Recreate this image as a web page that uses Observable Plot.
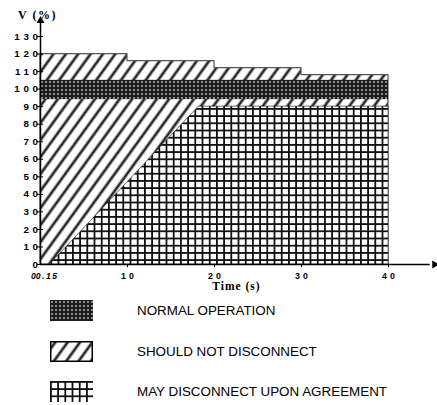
<!DOCTYPE html>
<html><head><meta charset="utf-8">
<script src="https://cdn.jsdelivr.net/npm/d3@7"></script>
<script src="https://cdn.jsdelivr.net/npm/@observablehq/plot@0.6"></script>
<style>
body{margin:0;background:#fff;}
#wrap{position:relative;width:437px;height:405px;overflow:hidden;font-family:"Liberation Sans",Arial,sans-serif;}
#chart{position:absolute;left:0;top:0;}
.sw{position:absolute;left:50px;width:43px;height:21px;}
.lt{position:absolute;left:137px;font-size:13.4px;line-height:16px;color:#000;white-space:nowrap;}
</style></head><body>
<svg width="0" height="0" style="position:absolute">
<defs>
<pattern id="hatch" patternUnits="userSpaceOnUse" width="10" height="10" patternTransform="rotate(36)">
 <rect width="10" height="10" fill="#fff"/>
 <rect x="3.1" width="3.8" height="10" fill="#a8a8a8"/>
 <rect x="4.1" width="1.8" height="10" fill="#1a1a1a"/>
</pattern>
<pattern id="grid" patternUnits="userSpaceOnUse" width="7.2" height="7.2">
 <rect width="7.2" height="7.2" fill="#fff"/>
 <rect width="1.8" height="7.2" fill="#111"/>
 <rect width="7.2" height="1.8" fill="#111"/>
</pattern>
<pattern id="dots" patternUnits="userSpaceOnUse" width="4" height="4">
 <rect width="4" height="4" fill="#1c1c1c"/>
 <rect x="1.2" y="1.2" width="1.6" height="1.6" fill="#c8c8c8"/>
</pattern>
</defs></svg>
<div id="wrap">
 <div id="chart"></div>
 <div id="legend"></div>
</div>
<script>
// "should not disconnect" upper limit (stepped)
const limitTime = [0, 10, 20, 30, 40];
const limitV = [120, 116, 112, 108, 108];
// normal operation band
const normalLow = 94;
const normalHigh = 105;
const normalStart = 0;
const normalEnd = 40;
// "may disconnect upon agreement" boundary
const agreeTime = [1.1, 18.2, 40];
const agreeV = [0, 90, 90];
// axes
const yTicks = [0, 10, 20, 30, 40, 50, 60, 70, 80, 90, 100, 110, 120, 130];
const xTicks = [10, 20, 30, 40];
const xOriginLabel = "0";
const xStartLabel = "0.15";
const axisEndX = 45.3;
const axisEndY = 139;
const yTitle = "V (%)";
const xTitle = "Time (s)";
const legendLabels = ["NORMAL OPERATION", "SHOULD NOT DISCONNECT", "MAY DISCONNECT UPON AGREEMENT"];
const legendFills = ["dots", "hatch", "grid"];

const limitData = limitTime.map((t, i) => ({t, v: limitV[i]}));
const agreeData = agreeTime.map((t, i) => ({t, v: agreeV[i]}));
const serif = "'Liberation Serif', 'Times New Roman', serif";

const chart = Plot.plot({
  width: 437,
  height: 296,
  marginLeft: 40,
  marginRight: 49,
  marginTop: 36,
  marginBottom: 32,
  x: {domain: [0, 40], axis: null},
  y: {domain: [0, 130], axis: null},
  style: {fontFamily: "'Liberation Sans', Arial, sans-serif", background: "transparent", overflow: "visible"},
  marks: [
    Plot.areaY(limitData, {x: "t", y: "v", curve: "step-after", fill: "url(#hatch)", stroke: "#555", strokeWidth: 1.2}),
    Plot.rect([{lo: normalLow, hi: normalHigh}], {x1: () => normalStart, x2: () => normalEnd, y1: "lo", y2: "hi", fill: "url(#dots)"}),
    Plot.areaY(agreeData, {x: "t", y: "v", fill: "url(#grid)", stroke: "#111", strokeWidth: 0.6}),
    // axes lines
    Plot.ruleY([0], {x1: 0, x2: axisEndX - 0.5, stroke: "#000", strokeWidth: 1.5}),
    Plot.ruleX([0], {y1: 0, y2: axisEndY - 1, stroke: "#000", strokeWidth: 1.5}),
    Plot.dot([{x: axisEndX, y: 0}], {x: "x", y: "y", symbol: "triangle", rotate: 90, r: 3, fill: "#000", stroke: "none"}),
    Plot.dot([{x: 0, y: axisEndY}], {x: "x", y: "y", symbol: "triangle", r: 3, fill: "#000", stroke: "none"}),
    // ticks
    Plot.ruleY(yTicks, {y: d => d, x1: -0.35, x2: 0.35, stroke: "#000", strokeWidth: 1}),
    Plot.ruleX(xTicks, {x: d => d, y1: 0, y2: -1.8, stroke: "#000", strokeWidth: 1}),
    // tick labels
    Plot.text(yTicks, {x: 0, y: d => d, text: d => String(d), textAnchor: "end", dx: 1, fontWeight: "bold", fontSize: 9.8, fill: "#000"}),
    Plot.text(xTicks, {x: d => d, y: 0, text: d => String(d), dy: 11.5, dx: 1.5, fontWeight: "bold", fontSize: 8.8, fill: "#000"}),
    Plot.text([xOriginLabel], {x: () => 0, y: () => 0, text: d => d, dx: -7, dy: 11.5, fontWeight: "bold", fontStyle: "italic", fontSize: 8.6, fill: "#000"}),
    Plot.text([xStartLabel], {x: () => agreeTime[0], y: () => 0, text: d => d, dx: -3, dy: 11.5, fontWeight: "bold", fontStyle: "italic", fontSize: 8.6, fill: "#000"}),
    // titles
    Plot.text([yTitle], {x: () => 0, y: () => 142.3, text: d => d, dx: -3, fontFamily: serif, fontWeight: "bold", fontSize: 12, fill: "#000"}),
    Plot.text([xTitle], {frameAnchor: "bottom", text: d => d, dx: 22, dy: 25, fontFamily: serif, fontWeight: "bold", fontSize: 11.5, fill: "#000"})
  ]
});
document.getElementById("chart").appendChild(chart);
const svg = d3.select(chart);
const ySet = new Set(yTicks.map(String));
const xSet = new Set(xTicks.map(String));
svg.selectAll("text").each(function() {
  const g = this.parentNode;
  const fs = g.getAttribute("font-size");
  const t = this.textContent;
  let ls = null;
  if (fs === "9.8" && ySet.has(t)) ls = "3.6px";
  else if (fs === "8.8" && xSet.has(t)) ls = "3px";
  else if (t === xStartLabel) ls = "1.5px";
  else if (t === yTitle) ls = "1.5px";
  else if (t === xTitle) ls = "1px";
  if (ls) d3.select(this).style("letter-spacing", ls);
});

// legend
const legendTop = [300, 341, 381];
const leg = d3.select("#legend");
legendLabels.forEach((lab, i) => {
  const s = leg.append("svg").attr("class", "sw").style("top", legendTop[i] + "px").attr("width", 43).attr("height", 21);
  const r = s.append("rect").attr("width", 43).attr("height", 21).attr("fill", `url(#${legendFills[i]})`);
  if (i === 1) r.attr("x", 0.75).attr("y", 0.75).attr("width", 41.5).attr("height", 19.5).attr("stroke", "#000").attr("stroke-width", 1.5);
  leg.append("div").attr("class", "lt").style("top", (legendTop[i] + 2.5) + "px").text(lab);
});
</script>
</body></html>
